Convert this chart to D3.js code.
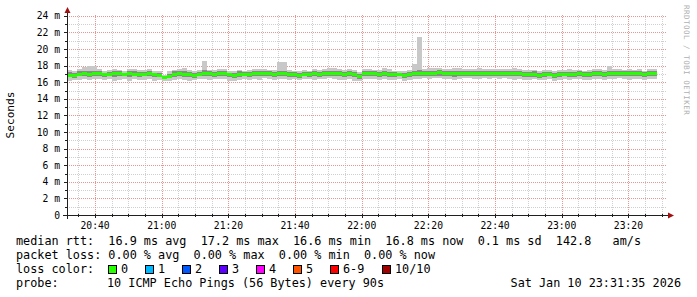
<!DOCTYPE html>
<html>
<head>
<meta charset="utf-8">
<script src="https://cdn.jsdelivr.net/npm/d3@7"></script>
<style>
  body { margin: 0; background: #fff; }
  svg { display: block; }
  text { font-family: "DejaVu Sans Mono", monospace; white-space: pre; }
</style>
</head>
<body>
<div class="container"></div>
<script>
const WIDTH = 697;
const HEIGHT = 297;

// 10 pings every 90 s, 3 hours ending Sat Jan 10 23:31:35 2026
const startTime = new Date(2026, 0, 10, 20, 31, 35);
const endTime = new Date(2026, 0, 10, 23, 31, 35);
const stepSeconds = 90;

// median rtt per step (ms)
const median = [
  16.8,16.8,16.9,17.0,16.9,17.0,17.0,16.9,16.9,17.0,17.0,16.9,17.0,16.9,16.9,16.9,17.0,16.9,16.8,16.6,
  16.7,16.9,17.0,16.9,16.9,16.8,16.9,17.0,17.0,16.9,17.0,17.0,16.9,16.8,16.9,16.9,16.9,17.0,17.0,17.1,
  17.0,16.9,17.0,17.0,16.9,16.9,16.8,16.9,16.9,17.0,16.9,17.0,17.1,17.1,17.0,16.9,17.0,16.9,16.7,17.0,
  17.1,17.0,16.9,17.0,16.9,16.9,16.9,16.8,16.9,17.0,17.0,17.1,17.1,17.1,17.2,17.1,17.0,17.0,17.0,17.1,
  17.1,17.0,17.1,17.0,17.1,17.1,17.0,17.1,17.0,17.1,17.0,16.9,16.9,16.9,16.8,16.9,16.9,16.8,16.9,16.9,
  16.9,16.9,17.0,16.9,16.9,17.0,17.0,16.9,17.0,17.1,17.1,17.1,17.0,17.0,17.0,16.9,17.0,17.0
];
// slowest / fastest pings (outer smoke)
const hiOuter = [
  17.5,17.4,17.6,17.8,17.9,18.0,17.6,17.4,17.5,17.6,17.5,17.4,17.6,17.6,17.5,17.5,17.6,17.4,17.4,16.9,
  17.3,17.5,17.6,17.7,17.5,17.4,17.5,18.5,17.5,17.5,17.6,17.6,17.4,17.4,17.5,17.4,17.5,17.6,17.6,17.6,
  17.5,17.5,18.4,18.4,17.5,17.4,17.4,17.5,17.4,17.6,17.5,17.6,17.7,17.7,17.6,17.5,17.6,17.5,17.2,17.6,
  17.6,17.5,17.5,17.7,17.6,17.4,17.4,17.4,17.5,18.2,21.4,17.6,17.7,17.7,17.7,17.6,17.6,17.7,17.7,17.6,
  17.6,17.6,17.7,17.6,17.6,17.6,17.6,17.6,17.6,17.7,17.6,17.5,17.5,17.5,17.4,17.5,17.5,17.4,17.5,17.5,
  17.6,17.5,17.5,17.4,17.5,17.6,17.6,17.5,18.0,17.6,17.6,17.5,17.6,17.5,17.6,17.4,17.6,17.6
];
const loOuter = [
  16.2,16.3,16.3,16.4,16.3,16.4,16.4,16.3,16.4,16.2,16.3,16.4,16.2,16.4,16.3,16.3,16.4,16.2,16.3,16.2,
  16.2,16.3,16.4,16.3,16.2,16.3,16.4,16.4,16.3,16.4,16.4,16.4,16.2,16.2,16.3,16.4,16.3,16.4,16.3,16.5,
  16.4,16.3,16.4,16.4,16.3,16.4,16.3,16.4,16.4,16.3,16.4,16.4,16.5,16.4,16.3,16.3,16.4,16.2,16.1,16.4,
  16.4,16.4,16.3,16.4,16.3,16.3,16.4,16.2,16.3,16.4,16.4,16.5,16.4,16.5,16.5,16.4,16.4,16.3,16.4,16.5,
  16.5,16.4,16.4,16.5,16.4,16.5,16.4,16.5,16.4,16.3,16.4,16.3,16.3,16.4,16.3,16.3,16.4,16.2,16.3,16.4,
  16.3,16.4,16.4,16.3,16.3,16.4,16.4,16.3,16.4,16.4,16.5,16.4,16.3,16.4,16.4,16.3,16.4,16.4
];
// middle pings (inner smoke)
const hiInner = [
  17.2,17.1,17.3,17.4,17.3,17.4,17.3,17.1,17.2,17.4,17.3,17.1,17.3,17.4,17.2,17.2,17.3,17.1,17.1,16.8,
  17.0,17.3,17.3,17.4,17.2,17.1,17.2,17.5,17.3,17.2,17.4,17.4,17.1,17.1,17.3,17.2,17.2,17.4,17.4,17.4,
  17.3,17.2,17.4,17.4,17.2,17.2,17.1,17.2,17.2,17.3,17.2,17.4,17.4,17.4,17.3,17.2,17.4,17.2,17.0,17.3,
  17.4,17.3,17.2,17.4,17.2,17.2,17.1,17.1,17.2,17.4,17.5,17.4,17.4,17.4,17.5,17.4,17.3,17.3,17.3,17.4,
  17.4,17.3,17.4,17.3,17.4,17.4,17.3,17.4,17.3,17.4,17.3,17.2,17.2,17.3,17.1,17.2,17.2,17.1,17.2,17.2,
  17.2,17.2,17.3,17.2,17.2,17.3,17.3,17.2,17.4,17.4,17.4,17.4,17.3,17.3,17.3,17.2,17.3,17.3
];
const loInner = [
  16.6,16.5,16.7,16.7,16.6,16.7,16.7,16.6,16.7,16.6,16.8,16.7,16.6,16.7,16.6,16.7,16.7,16.6,16.6,16.4,
  16.5,16.6,16.7,16.6,16.6,16.5,16.7,16.7,16.7,16.6,16.7,16.7,16.6,16.5,16.6,16.7,16.6,16.7,16.7,16.8,
  16.7,16.6,16.7,16.7,16.6,16.6,16.5,16.7,16.6,16.7,16.6,16.7,16.8,16.8,16.7,16.6,16.7,16.6,16.4,16.7,
  16.8,16.7,16.6,16.7,16.6,16.6,16.7,16.5,16.6,16.7,16.7,16.8,16.7,16.8,16.8,16.8,16.7,16.6,16.7,16.8,
  16.8,16.7,16.8,16.7,16.8,16.8,16.7,16.8,16.7,16.7,16.7,16.6,16.6,16.6,16.5,16.6,16.7,16.5,16.6,16.7,
  16.6,16.6,16.7,16.6,16.6,16.7,16.7,16.6,16.7,16.8,16.8,16.8,16.7,16.7,16.7,16.6,16.7,16.7
];

const yTicksMajor = [0, 2, 4, 6, 8, 10, 12, 14, 16, 18, 20, 22, 24];
const yTicksMinor = d3.range(0, 25, 1);

const lossLabels = ['0', '1', '2', '3', '4', '5', '6-9', '10/10'];
const lossColors = ['#26ff00', '#00b8ff', '#0059ff', '#5e00ff', '#ff00ff', '#ff5500', '#ff0000', '#a00000'];

const legendLines = [
  'median rtt:  16.9 ms avg  17.2 ms max  16.6 ms min  16.8 ms now  0.1 ms sd  142.8   am/s',
  'packet loss: 0.00 % avg  0.00 % max  0.00 % min  0.00 % now'
];
const probeText = '10 ICMP Echo Pings (56 Bytes) every 90s';
const stampText = 'Sat Jan 10 23:31:35 2026';

// ---- layout
const plot = { left: 67, right: 667, top: 15, bottom: 215 };

const x = d3.scaleTime().domain([startTime, endTime]).range([plot.left, plot.right]);
const y = d3.scaleLinear().domain([0, 24.1]).range([plot.bottom, plot.top]);

const svg = d3.select('.container').append('svg')
  .attr('width', WIDTH)
  .attr('height', HEIGHT);

svg.append('rect').attr('width', WIDTH).attr('height', HEIGHT).attr('fill', '#fff');

var steps = median.map(function (m, i) {
  return {
    t0: d3.timeSecond.offset(startTime, i * stepSeconds),
    t1: d3.timeSecond.offset(startTime, (i + 1) * stepSeconds),
    med: m, hiO: hiOuter[i], loO: loOuter[i], hiI: hiInner[i], loI: loInner[i]
  };
});

// ---- grid
var minorX = x.ticks(d3.timeMinute.every(5));
var majorX = x.ticks(d3.timeMinute.every(20));
var grid = svg.append('g').attr('shape-rendering', 'crispEdges');

grid.selectAll('.vmin').data(minorX).enter().append('line')
  .attr('x1', function (d) { return Math.round(x(d)) + 0.5; })
  .attr('x2', function (d) { return Math.round(x(d)) + 0.5; })
  .attr('y1', plot.top).attr('y2', plot.bottom)
  .attr('stroke', 'rgba(191,191,191,0.75)').attr('stroke-dasharray', '1,1');
grid.selectAll('.hmin').data(yTicksMinor).enter().append('line')
  .attr('x1', plot.left).attr('x2', plot.right)
  .attr('y1', function (d) { return Math.round(y(d)) + 0.5; })
  .attr('y2', function (d) { return Math.round(y(d)) + 0.5; })
  .attr('stroke', 'rgba(191,191,191,0.75)').attr('stroke-dasharray', '1,1');
grid.selectAll('.vmaj').data(majorX).enter().append('line')
  .attr('x1', function (d) { return Math.round(x(d)) + 0.5; })
  .attr('x2', function (d) { return Math.round(x(d)) + 0.5; })
  .attr('y1', plot.top).attr('y2', plot.bottom)
  .attr('stroke', 'rgba(245,128,128,0.75)').attr('stroke-dasharray', '1,1');
grid.selectAll('.hmaj').data(yTicksMajor).enter().append('line')
  .attr('x1', plot.left).attr('x2', plot.right)
  .attr('y1', function (d) { return Math.round(y(d)) + 0.5; })
  .attr('y2', function (d) { return Math.round(y(d)) + 0.5; })
  .attr('stroke', 'rgba(245,128,128,0.75)').attr('stroke-dasharray', '1,1');

// ---- smoke
var marks = svg.append('g').attr('shape-rendering', 'crispEdges');
function band(cls, lo, hi, color) {
  marks.selectAll('.' + cls).data(steps).enter().append('rect')
    .attr('class', cls)
    .attr('x', function (d) { return x(d.t0); })
    .attr('width', function (d) { return x(d.t1) - x(d.t0); })
    .attr('y', function (d) { return y(d[hi]); })
    .attr('height', function (d) { return y(d[lo]) - y(d[hi]); })
    .attr('fill', color);
}
band('outer', 'loO', 'hiO', '#c8c8c8');
band('inner', 'loI', 'hiI', '#8a8a8a');

// median, coloured by loss (all 0 here)
marks.selectAll('.med').data(steps).enter().append('rect')
  .attr('x', function (d) { return x(d.t0); })
  .attr('width', function (d) { return x(d.t1) - x(d.t0); })
  .attr('y', function (d) { return y(d.med) - 1.5; })
  .attr('height', 3)
  .attr('fill', lossColors[0]);

// ---- axes
var axisG = svg.append('g').attr('shape-rendering', 'crispEdges');
axisG.append('line').attr('x1', plot.left - 4).attr('x2', plot.right + 2)
  .attr('y1', plot.bottom + 0.5).attr('y2', plot.bottom + 0.5).attr('stroke', '#202020');
axisG.append('line').attr('x1', plot.left + 0.5).attr('x2', plot.left + 0.5)
  .attr('y1', plot.bottom + 4).attr('y2', plot.top - 3).attr('stroke', '#202020');

axisG.selectAll('.xt').data(minorX).enter().append('line')
  .attr('x1', function (d) { return Math.round(x(d)) + 0.5; })
  .attr('x2', function (d) { return Math.round(x(d)) + 0.5; })
  .attr('y1', plot.bottom - 1)
  .attr('y2', function (d) { return plot.bottom + (majorX.some(function (m) { return +m === +d; }) ? 3 : 2); })
  .attr('stroke', '#202020');
axisG.selectAll('.yt').data(yTicksMinor).enter().append('line')
  .attr('x1', function (d) { return plot.left - (d % 2 === 0 ? 3 : 2); })
  .attr('x2', plot.left + 1)
  .attr('y1', function (d) { return Math.round(y(d)) + 0.5; })
  .attr('y2', function (d) { return Math.round(y(d)) + 0.5; })
  .attr('stroke', '#202020');

svg.append('path')
  .attr('d', 'M' + (plot.left - 2.5) + ',' + (plot.top - 2) + 'L' + (plot.left + 3.5) + ',' + (plot.top - 2) + 'L' + (plot.left + 0.5) + ',' + (plot.top - 8) + 'Z')
  .attr('fill', '#a01010');
svg.append('path')
  .attr('d', 'M' + (plot.right + 1) + ',' + (plot.bottom - 2.5) + 'L' + (plot.right + 1) + ',' + (plot.bottom + 3.5) + 'L' + (plot.right + 7) + ',' + (plot.bottom + 0.5) + 'Z')
  .attr('fill', '#a01010');

var fmt = d3.timeFormat('%H:%M');
svg.selectAll('.xl').data(majorX).enter().append('text')
  .attr('x', function (d) { return x(d); })
  .attr('y', 229)
  .attr('text-anchor', 'middle')
  .attr('font-size', 9.7)
  .attr('fill', '#000')
  .text(fmt);

svg.selectAll('.yl').data(yTicksMajor).enter().append('text')
  .attr('x', 60)
  .attr('y', function (d) { return y(d) + 3.5; })
  .attr('text-anchor', 'end')
  .attr('font-size', 9.7)
  .attr('fill', '#000')
  .text(function (d) { return d === 0 ? '0' : d + ' m'; });

svg.append('text')
  .attr('transform', 'translate(14,' + ((plot.top + plot.bottom) / 2) + ') rotate(-90)')
  .attr('text-anchor', 'middle')
  .attr('font-size', 11.1)
  .attr('fill', '#000')
  .text('Seconds');

svg.append('text')
  .attr('transform', 'translate(684,5) rotate(90)')
  .attr('font-size', 7.5)
  .attr('letter-spacing', 0.5)
  .attr('fill', '#b0b0b0')
  .text('RRDTOOL / TOBI OETIKER');

// ---- legend
var lg = svg.append('g').attr('font-size', 11.8).attr('fill', '#000');
lg.selectAll('.ll').data(legendLines).enter().append('text')
  .attr('x', 16)
  .attr('y', function (d, i) { return 245 + i * 14; })
  .text(function (d) { return d; });

lg.append('text').attr('x', 16).attr('y', 273).text('loss color:');
var sqX = [108, 145, 182, 219, 256, 293, 330, 382];
var items = lg.selectAll('.li').data(lossLabels).enter().append('g')
  .attr('transform', function (d, i) { return 'translate(' + sqX[i] + ',265)'; });
items.append('rect')
  .attr('x', 0.5).attr('y', 0.5).attr('width', 8).attr('height', 8)
  .attr('fill', function (d, i) { return lossColors[i]; })
  .attr('stroke', '#000').attr('stroke-width', 1)
  .attr('shape-rendering', 'crispEdges');
items.append('text').attr('x', 13).attr('y', 8).text(function (d) { return d; });

lg.append('text').attr('x', 16).attr('y', 287).text('probe:');
lg.append('text').attr('x', 107).attr('y', 287).text(probeText);
lg.append('text').attr('x', 681).attr('y', 287).attr('text-anchor', 'end').text(stampText);
</script>
</body>
</html>
